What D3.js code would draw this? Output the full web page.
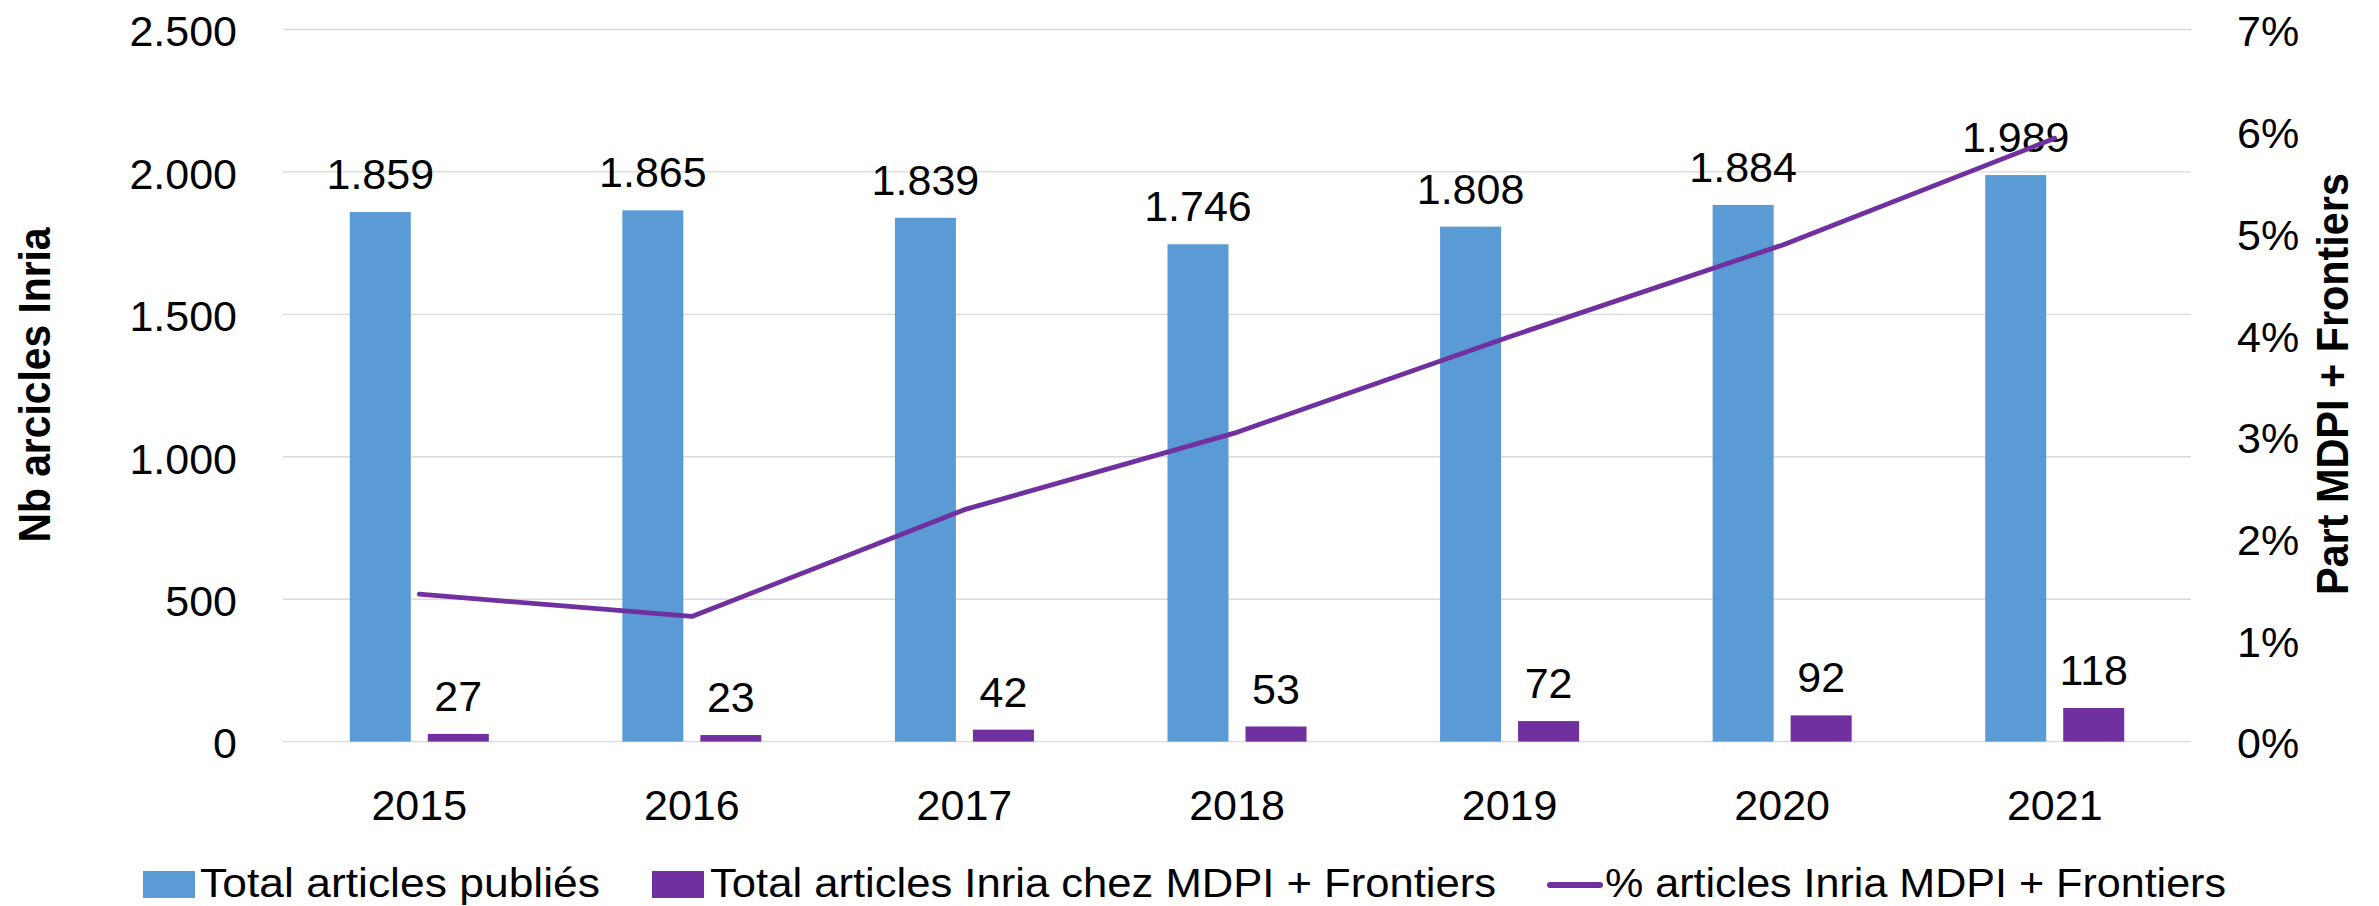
<!DOCTYPE html>
<html>
<head>
<meta charset="utf-8">
<script src="https://cdn.jsdelivr.net/npm/d3@7"></script>
<style>
  body { margin: 0; background: #fff; }
  text { font-family: "Liberation Sans", Arial, sans-serif; fill: #000; }
  .axis path { display: none; }
  .axis line { display: none; }
  .axis text { font-size: 43px; }
  .grid line { stroke: #d9d9d9; stroke-width: 1.4; }
  .label { font-size: 43px; text-anchor: middle; }
  .title { font-size: 44px; font-weight: bold; text-anchor: middle; }
  .legend text { font-size: 41px; }
</style>
</head>
<body>
<svg width="2379" height="906"></svg>
<script>
// data
var years = ["2015", "2016", "2017", "2018", "2019", "2020", "2021"];
var totalArticles = [1859, 1865, 1839, 1746, 1808, 1884, 1989];
var mdpiArticles = [27, 23, 42, 53, 72, 92, 118];
var sharePct = [1.45, 1.23, 2.28, 3.04, 3.98, 4.88, 5.93];
var leftTicks = [0, 500, 1000, 1500, 2000, 2500];
var rightTicks = [0, 0.01, 0.02, 0.03, 0.04, 0.05, 0.06, 0.07];
var seriesNames = ["Total articles publiés", "Total articles Inria chez MDPI + Frontiers", "% articles Inria MDPI + Frontiers"];

var blue = "#5b9bd5", purple = "#7030a0";

var svg = d3.select("svg"),
    plotLeft = 283, plotRight = 2191, plotTop = 29.5, plotBottom = 741.6;

var fr = d3.formatLocale({ decimal: ",", thousands: ".", grouping: [3], currency: ["", " €"] });
var fmt = fr.format(",");

var x0 = d3.scaleBand().domain(years).range([plotLeft, plotRight]);
var x1 = d3.scaleBand().domain(["total", "mdpi"]).range([0, x0.bandwidth()])
    .paddingInner(0.218).paddingOuter(0.856);
var y = d3.scaleLinear().domain([0, 2500]).range([plotBottom, plotTop]);
var y2 = d3.scaleLinear().domain([0, 0.07]).range([plotBottom, plotTop]);

// gridlines
svg.append("g").attr("class", "grid")
    .selectAll("line").data(leftTicks).enter().append("line")
    .attr("x1", plotLeft).attr("x2", plotRight)
    .attr("y1", function (d) { return y(d); })
    .attr("y2", function (d) { return y(d); });

// axes
svg.append("g").attr("class", "axis")
    .attr("transform", "translate(" + plotLeft + ",0)")
    .call(d3.axisLeft(y).tickValues(leftTicks).tickFormat(fmt).tickSize(0).tickPadding(46))
    .selectAll("text").attr("dy", "0.38em");
svg.append("g").attr("class", "axis")
    .attr("transform", "translate(" + plotRight + ",0)")
    .call(d3.axisRight(y2).tickValues(rightTicks).tickFormat(d3.format(".0%")).tickSize(0).tickPadding(46))
    .selectAll("text").attr("dy", "0.38em");
svg.append("g").attr("class", "axis")
    .attr("transform", "translate(0," + plotBottom + ")")
    .call(d3.axisBottom(x0).tickSize(0).tickPadding(48));

// bars
var rows = years.map(function (yr, i) {
    return { year: yr, total: totalArticles[i], mdpi: mdpiArticles[i], share: sharePct[i] / 100 };
});
var groups = svg.selectAll(".year").data(rows).enter().append("g")
    .attr("class", "year")
    .attr("transform", function (d) { return "translate(" + x0(d.year) + ",0)"; });
groups.append("rect")
    .attr("x", x1("total")).attr("width", x1.bandwidth())
    .attr("y", function (d) { return y(d.total); })
    .attr("height", function (d) { return plotBottom - y(d.total); })
    .style("fill", blue);
groups.append("rect")
    .attr("x", x1("mdpi")).attr("width", x1.bandwidth())
    .attr("y", function (d) { return y(d.mdpi); })
    .attr("height", function (d) { return plotBottom - y(d.mdpi); })
    .style("fill", purple);

// share line
var line = d3.line()
    .x(function (d) { return x0(d.year) + x0.bandwidth() / 2; })
    .y(function (d) { return y2(d.share); });
svg.append("path").datum(rows)
    .attr("d", line)
    .style("fill", "none")
    .style("stroke", purple)
    .style("stroke-width", 4.8)
    .style("stroke-linejoin", "round")
    .style("stroke-linecap", "round");

// value labels
groups.append("text").attr("class", "label")
    .attr("x", x1("total") + x1.bandwidth() / 2)
    .attr("y", function (d) { return y(d.total) - 23; })
    .text(function (d) { return fmt(d.total); });
groups.append("text").attr("class", "label")
    .attr("x", x1("mdpi") + x1.bandwidth() / 2)
    .attr("y", function (d) { return y(d.mdpi) - 23; })
    .text(function (d) { return fmt(d.mdpi); });

// axis titles
svg.append("text").attr("class", "title")
    .attr("transform", "translate(50,385) rotate(-90)")
    .attr("textLength", 315).attr("lengthAdjust", "spacingAndGlyphs")
    .text("Nb arcicles Inria");
svg.append("text").attr("class", "title")
    .attr("transform", "translate(2348,384) rotate(-90)")
    .attr("textLength", 422).attr("lengthAdjust", "spacingAndGlyphs")
    .text("Part MDPI + Frontiers");

// legend
var legend = svg.append("g").attr("class", "legend");
legend.append("rect").attr("x", 143).attr("y", 871).attr("width", 52).attr("height", 27).style("fill", blue);
legend.append("text").attr("x", 200).attr("y", 897)
    .attr("textLength", 400).attr("lengthAdjust", "spacingAndGlyphs").text(seriesNames[0]);
legend.append("rect").attr("x", 652).attr("y", 871).attr("width", 52).attr("height", 27).style("fill", purple);
legend.append("text").attr("x", 710).attr("y", 897)
    .attr("textLength", 786).attr("lengthAdjust", "spacingAndGlyphs").text(seriesNames[1]);
legend.append("line").attr("x1", 1550).attr("x2", 1600).attr("y1", 885).attr("y2", 885)
    .style("stroke", purple).style("stroke-width", 6).style("stroke-linecap", "round");
legend.append("text").attr("x", 1605).attr("y", 897)
    .attr("textLength", 621).attr("lengthAdjust", "spacingAndGlyphs").text(seriesNames[2]);
</script>
</body>
</html>
